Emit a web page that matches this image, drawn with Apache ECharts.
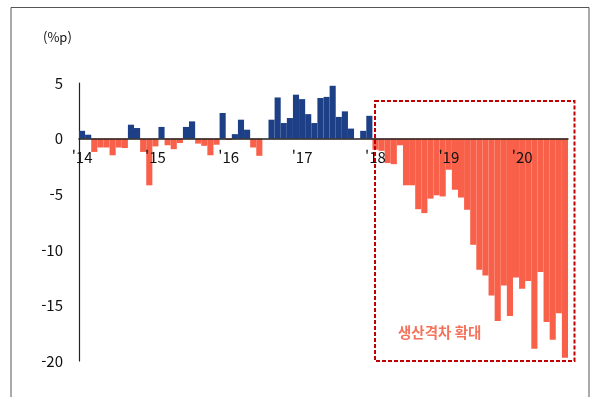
<!DOCTYPE html>
<html lang="ko">
<head>
<meta charset="UTF-8">
<title>생산격차</title>
<script src="https://cdn.jsdelivr.net/npm/echarts@6/dist/echarts.min.js"></script>
<style>
  html, body { margin: 0; padding: 0; background: #fff; }
  #chart { width: 590px; height: 397px; }
</style>
</head>
<body>
<div id="chart"></div>
<script>
// 월별 생산격차 (%p), 2014.01 ~ 2020.08
var years = ['14', '15', '16', '17', '18', '19', '20'];
var gap2014 = [0.7, 0.35, -1.2, -0.8, -0.8, -1.5, -0.8, -0.85, 1.25, 0.95, -1.2, -4.2];
var gap2015 = [-0.7, 1.05, -0.6, -0.95, -0.4, 1.05, 1.55, -0.45, -0.65, -1.5, -0.55, 2.3];
var gap2016 = [-0.12, 0.4, 1.7, 0.8, -0.8, -1.55, 0, 1.7, 3.7, 1.4, 1.85, 3.95];
var gap2017 = [3.55, 2.2, 1.4, 3.65, 3.75, 4.75, 1.95, 2.45, 0.9, 0, 0.7, 2.05];
var gap2018 = [-1.0, -1.1, -2.2, -2.3, -0.6, -4.2, -4.2, -6.35, -6.7, -5.4, -5.1, -5.2];
var gap2019 = [-2.8, -4.6, -5.3, -6.4, -9.55, -11.8, -12.3, -14.1, -16.4, -13.2, -15.95, -12.5];
var gap2020 = [-13.5, -12.8, -18.9, -12.0, -16.5, -18.1, -15.7, -19.7];
var yTicks = [-20, -15, -10, -5, 0, 5];

var values = [].concat(gap2014, gap2015, gap2016, gap2017, gap2018, gap2019, gap2020);
var months = [];
for (var i = 0; i < values.length; i++) {
    months.push(years[Math.floor(i / 12)] + '.' + (i % 12 + 1));
}

var posColor = '#1d3f86';
var negColor = '#f8604a';

var gridTop = 83, gridBottom = 36, chartH = 397;
var yMin = yTicks[0], yMax = yTicks[yTicks.length - 1];
// x축을 0 위치로 올리기 위한 offset
var zeroOffset = (chartH - gridTop - gridBottom) * (0 - yMin) / (yMax - yMin);

var chart = echarts.init(document.getElementById('chart'));
var option = {
    animation: false,
    grid: { left: 79, right: 22, top: gridTop, bottom: gridBottom },
    xAxis: {
        type: 'category',
        data: months,
        offset: -zeroOffset,
        axisLine: { onZero: false, lineStyle: { color: '#222', width: 1.5 } },
        axisTick: { show: false },
        axisLabel: {
            interval: function (idx) { return idx % 12 === 0; },
            formatter: function (v) { return "'" + v.split('.')[0]; },
            color: '#111',
            fontSize: 15,
            fontFamily: 'Noto Sans CJK KR',
            margin: 11
        },
        z: 5
    },
    yAxis: {
        type: 'value',
        min: yMin,
        max: yMax,
        interval: 5,
        splitLine: { show: false },
        axisLine: { show: true, lineStyle: { color: '#222', width: 1.2 } },
        axisTick: { show: false },
        axisLabel: {
            color: '#111',
            fontSize: 15,
            fontFamily: 'Noto Sans CJK KR',
            margin: 16
        }
    },
    series: [{
        type: 'bar',
        data: values,
        barCategoryGap: '0%',
        itemStyle: {
            color: function (p) { return p.value >= 0 ? posColor : negColor; }
        }
    }],
    graphic: [
        // 바깥 테두리
        {
            type: 'rect',
            shape: { x: 11, y: 7.5, width: 578, height: 400 },
            style: { fill: 'none', stroke: '#555', lineWidth: 1 },
            silent: true
        },
        {
            type: 'text',
            left: 43,
            top: 31,
            style: {
                text: '(%p)',
                fill: '#111',
                font: '13px "Noto Sans CJK KR"'
            }
        },
        // 점선 박스
        {
            type: 'rect',
            shape: { x: 375, y: 101, width: 199.5, height: 260 },
            style: { fill: 'none', stroke: '#c00000', lineWidth: 2, lineDash: [4, 2] },
            z: 10
        },
        {
            type: 'text',
            left: 398,
            top: 325,
            style: {
                text: '생산격차 확대',
                fill: '#f4735b',
                font: 'bold 14.5px "Noto Sans CJK KR"'
            },
            z: 10
        }
    ]
};
chart.setOption(option);
</script>
</body>
</html>
